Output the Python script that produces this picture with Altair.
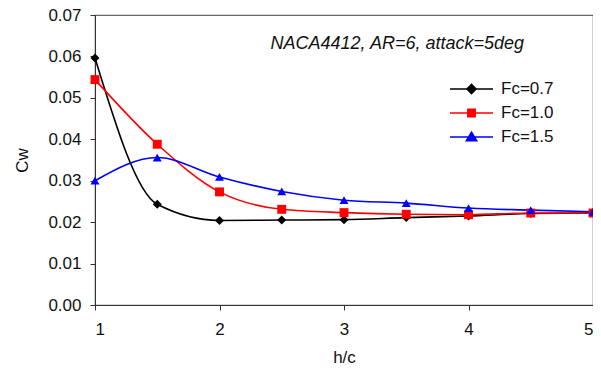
import altair as alt
import pandas as pd

# ---- data ----
h_c = [1.0, 1.5, 2.0, 2.5, 3.0, 3.5, 4.0, 4.5, 5.0]
series = ["Fc=0.7", "Fc=1.0", "Fc=1.5"]
cw_fc07 = [0.0596, 0.0243, 0.0204, 0.0205, 0.0206, 0.0211, 0.0215, 0.0221, 0.0222]
cw_fc10 = [0.0544, 0.0388, 0.0273, 0.0231, 0.0223, 0.0219, 0.0218, 0.0222, 0.0222]
cw_fc15 = [0.0300, 0.0356, 0.0309, 0.0274, 0.0253, 0.0246, 0.0234, 0.0229, 0.0225]
y_ticks = [0.0, 0.01, 0.02, 0.03, 0.04, 0.05, 0.06, 0.07]
x_ticks = [1, 2, 3, 4, 5]
annotation = "NACA4412, AR=6, attack=5deg"

# ---- styles ----
colors = ["#000000", "#ff0000", "#0000ff"]
markers = ["diamond", "square", "triangle-up"]
legend_paths = [
    "M-1,0L1,0M-0.21,0L0,-0.21L0.21,0L0,0.21Z",
    "M-1,0L1,0M-0.17,-0.17L0.17,-0.17L0.17,0.17L-0.17,0.17Z",
    "M-1,0L1,0M0,-0.22L0.24,0.17L-0.24,0.17Z",
]
FONT = "Liberation Sans"

rows = []
for name, vals, mk in zip(series, [cw_fc07, cw_fc10, cw_fc15], markers):
    for x, y in zip(h_c, vals):
        rows.append({"h": x, "Cw": y, "Fc": name, "marker": mk})
df = pd.DataFrame(rows)

xenc = alt.X("h:Q", scale=alt.Scale(domain=[1, 5], nice=False),
             axis=alt.Axis(title="h/c", values=x_ticks, format="d", labelPadding=11,
                           titleY=44, titleBaseline="top"))
yenc = alt.Y("Cw:Q", scale=alt.Scale(domain=[0, 0.07], nice=False),
             axis=alt.Axis(title="Cw", values=y_ticks, format=".2f", labelPadding=9,
                           titleX=-73, titleY=145, titleBaseline="middle"))
color_scale = alt.Scale(domain=series, range=colors)

base = alt.Chart(df)

lines = base.mark_line(interpolate="monotone", strokeWidth=1.6).encode(
    x=xenc, y=yenc, color=alt.Color("Fc:N", scale=color_scale), detail="Fc:N")

points = base.mark_point(filled=True, size=80, opacity=1).encode(
    x="h:Q", y="Cw:Q",
    color=alt.Color("Fc:N", scale=color_scale),
    shape=alt.Shape("marker:N", scale=None))

legend_layer = base.mark_point(filled=True, opacity=1, strokeWidth=1.6).encode(
    x="h:Q", y="Cw:Q",
    color=alt.Color("Fc:N", scale=color_scale,
                    legend=alt.Legend(title=None, orient="none", legendX=354, legendY=64,
                                      symbolSize=1849, symbolStrokeWidth=1.6,
                                      labelFont=FONT, labelFontSize=17, labelColor="#111",
                                      labelOffset=7, clipHeight=20, rowPadding=4,
                                      padding=0)),
    stroke=alt.Stroke("Fc:N", scale=alt.Scale(domain=series, range=colors)),
    shape=alt.Shape("Fc:N", scale=alt.Scale(domain=series, range=legend_paths)),
).transform_filter("false")

chart = alt.layer(lines, points, legend_layer).properties(
    width=498, height=290,
    background="white",
    autosize=alt.AutoSizeParams(type="none"),
    padding={"left": 87, "top": 7, "right": 0, "bottom": 60},
    title=alt.TitleParams(annotation, anchor="end", frame="group", orient="top",
                          font=FONT, fontSize=18, fontStyle="italic", fontWeight="normal",
                          color="#111", dx=-69, dy=56, offset=0, baseline="middle"),
).configure_view(stroke="#666", strokeWidth=1.2).configure_axis(
    grid=False, domainColor="#333", tickColor="#333", tickSize=5,
    labelFont=FONT, labelFontSize=17, labelColor="#111",
    titleFont=FONT, titleFontSize=17, titleColor="#111", titleFontWeight="normal",
)

chart.save("out.html", embed_options={"renderer": "svg", "actions": False})
